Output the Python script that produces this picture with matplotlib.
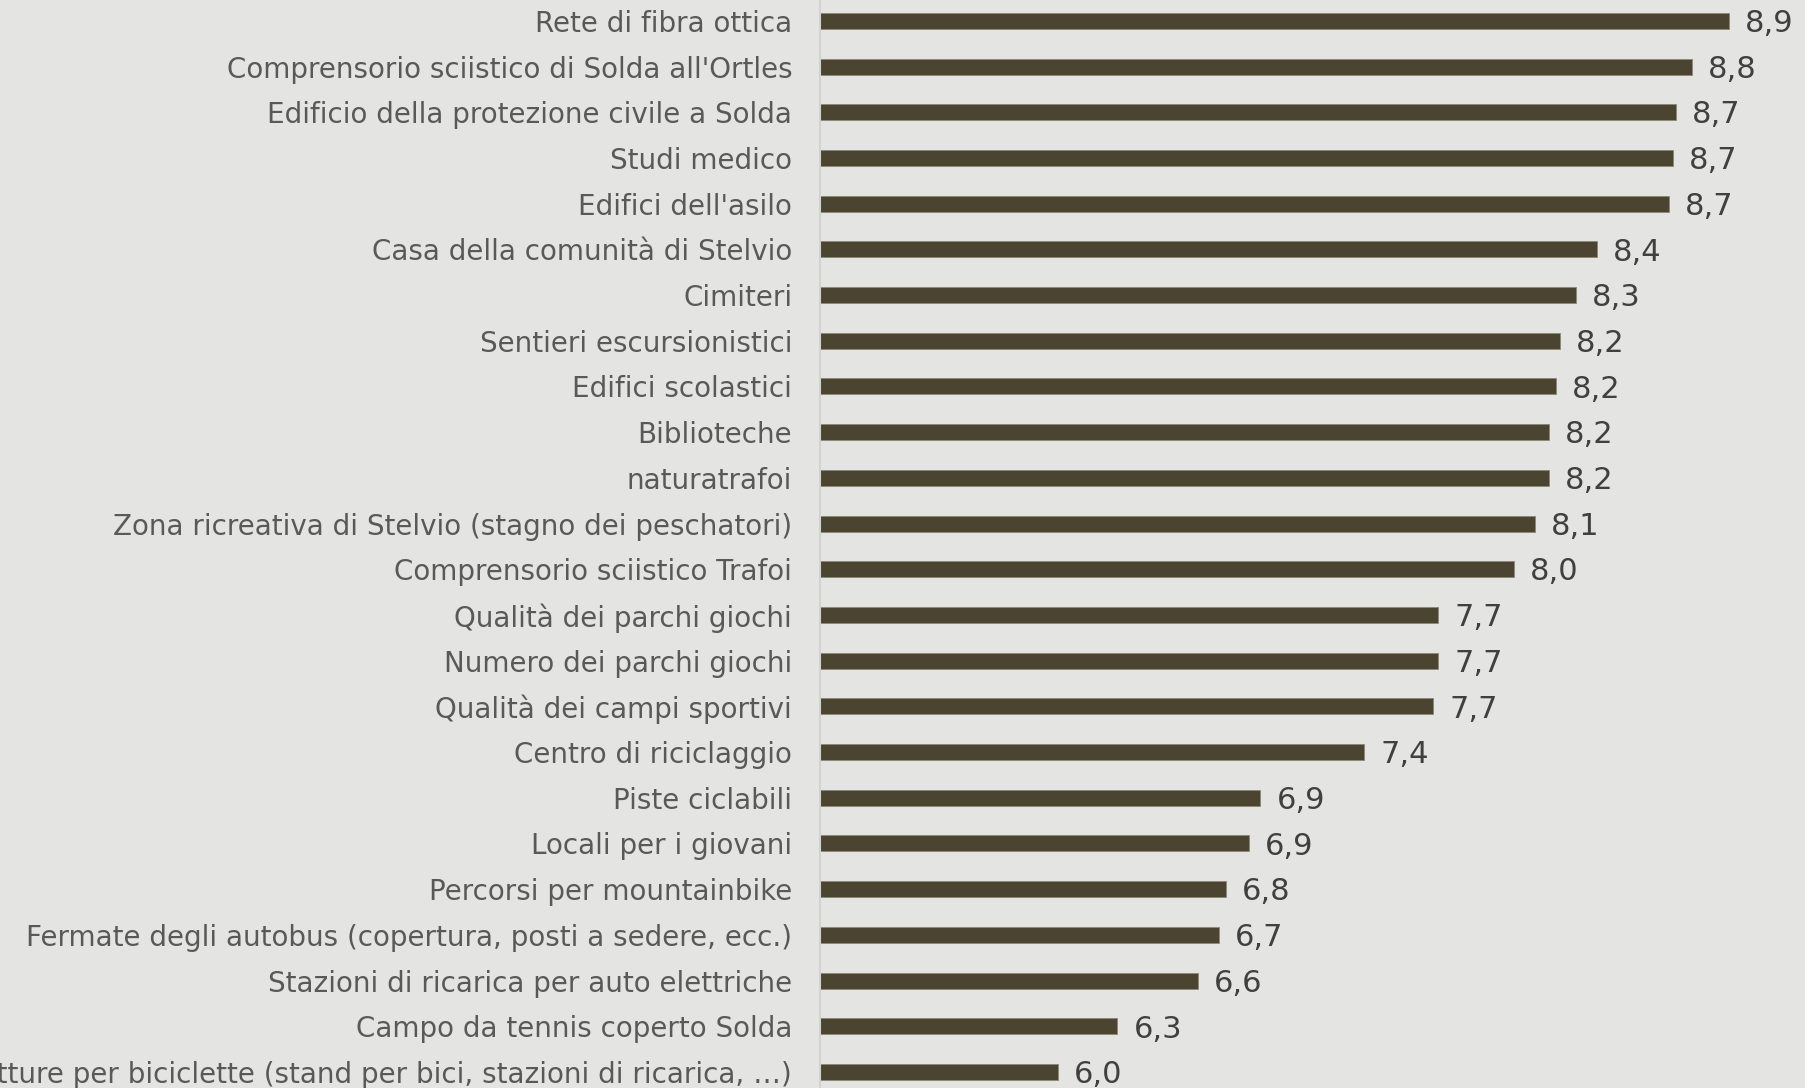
import matplotlib
matplotlib.use("Agg")
import matplotlib.pyplot as plt

categories = [
    "Rete di fibra ottica",
    "Comprensorio sciistico di Solda all'Ortles",
    "Edificio della protezione civile a Solda",
    "Studi medico",
    "Edifici dell'asilo",
    "Casa della comunità di Stelvio",
    "Cimiteri",
    "Sentieri escursionistici",
    "Edifici scolastici",
    "Biblioteche",
    "naturatrafoi",
    "Zona ricreativa di Stelvio (stagno dei peschatori)",
    "Comprensorio sciistico Trafoi",
    "Qualità dei parchi giochi",
    "Numero dei parchi giochi",
    "Qualità dei campi sportivi",
    "Centro di riciclaggio",
    "Piste ciclabili",
    "Locali per i giovani",
    "Percorsi per mountainbike",
    "Fermate degli autobus (copertura, posti a sedere, ecc.)",
    "Stazioni di ricarica per auto elettriche",
    "Campo da tennis coperto Solda",
    "Infrastrutture per biciclette (stand per bici, stazioni di ricarica, …)",
]
values = [8.94, 8.78, 8.71, 8.70, 8.68, 8.37, 8.28, 8.21, 8.19, 8.16, 8.16, 8.10,
          8.01, 7.68, 7.68, 7.66, 7.36, 6.91, 6.86, 6.76, 6.73, 6.64, 6.29, 6.03]

bg = "#e4e5e3"
bar_color = "#4a4430"

fig = plt.figure(figsize=(18.06, 10.88), dpi=100, facecolor=bg)
# axis line sits at x=820 px, 230.6 px per unit, starting at 5
ax = fig.add_axes([820 / 1806, 0, 1 - 820 / 1806, 1], facecolor=bg)

pos = list(range(len(categories)))
ax.barh(pos, values, left=0, height=0.35, color=bar_color,
        edgecolor="#8c8878", linewidth=0.6)
ax.set_xlim(5, 5 + 986 / 230.6)
ax.set_ylim(23 + 16 / 45.7, -20.8 / 45.7)

for p, v in zip(pos, values):
    ax.text(v + 16 / 230.6, p + 0.06, f"{v:.1f}".replace(".", ","),
            va="center", ha="left", fontsize=22, color="#404040")

ax.set_yticks(pos)
ax.set_yticklabels(categories, fontsize=20, color="#595959")
ax.tick_params(axis="y", length=0, pad=20)
ax.set_xticks([])
for s in ["top", "right", "bottom"]:
    ax.spines[s].set_visible(False)
ax.spines["left"].set_color("#d2d3d1")
ax.spines["left"].set_linewidth(1.5)

fig.savefig("out.png", dpi=100, facecolor=bg)
